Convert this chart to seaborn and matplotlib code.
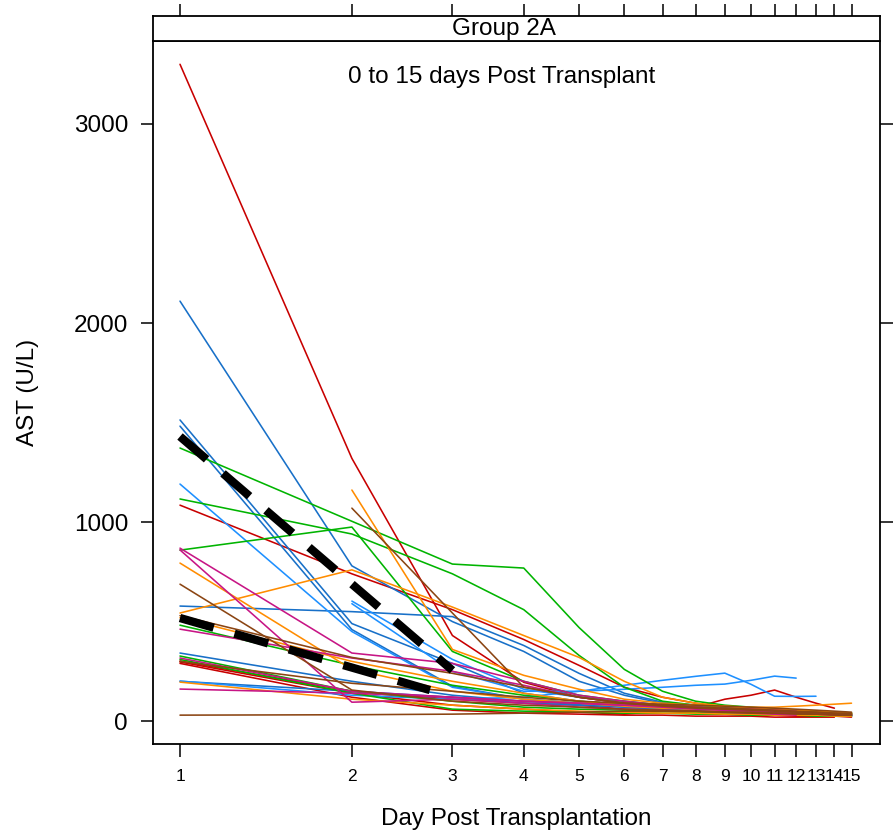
import numpy as np
import pandas as pd
import matplotlib
matplotlib.use('Agg')
import matplotlib.pyplot as plt
import seaborn as sns

# days post transplant (log scale)
days = list(range(1, 16))
day_ticks = list(range(1, 16))
N = None

# AST (U/L) per patient, grouped by line colour
red_patients = [
    [3300, 1320, 430, 195, 120, 90, 70, 60, 55, 50, 45, 45, 40, 40, 35],
    [1085, 740, 560, 410, 280, 170, 120, 90, 70, 60, 55, 50, 45, 40, 40],
    [302, 150, 110, 90, 80, 60, 55, 70, 110, 130, 156, 120, 90, 65, N],
    [297, 140, 80, 60, 45, 35, 50, 40, 35, 30, 30, 25, 25, 25, 20],
    [290, 120, 55, 40, 35, 30, 30, 25, 25, 25, 20, 20, 20, 20, N],
]
blue_patients = [
    [2110, 780, 500, 350, 200, 130, 90, 70, 60, 55, 50, 45, 40, 35, 30],
    [1513, 490, 290, 140, 100, 80, 70, 60, 55, 50, 45, 40, 40, 35, 30],
    [1482, 460, 175, 110, 90, 70, 60, 50, 45, 40, 35, 35, 30, 30, 25],
    [578, 550, 525, 380, 240, 140, 95, 80, 70, 60, 55, 50, 45, 40, 35],
    [342, 200, 130, 100, 85, 75, 65, 55, 50, 45, 40, 40, 35, 35, 30],
    [200, 150, 120, 90, 80, 70, 60, 55, 50, 45, 40, 35, 30, 30, 25],
]
lightblue_patients = [
    [1191, 450, 170, 110, 90, 80, 70, 60, 55, 50, 45, 40, 40, 35, 30],
    [N, 603, 310, 160, 120, 100, 80, 70, 60, 50, 45, 40, 40, 35, 30],
    [201, 130, 110, 120, 150, 180, 205, 225, 241, 185, 125, 124, 125, N, N],
    [N, 590, 250, 150, 150, 160, 170, 180, 186, 205, 226, 216, N, N, N],
]
green_patients = [
    [1372, 1004, 789, 769, 470, 260, 150, 100, 80, 70, 60, 55, 50, 45, 40],
    [1116, 940, 740, 560, 330, 170, 100, 80, 70, 60, 55, 50, 45, 40, 35],
    [859, 975, 350, 200, 130, 100, 80, 70, 60, 55, 50, 45, 45, 40, 35],
    [482, 280, 180, 130, 100, 85, 75, 65, 60, 55, 50, 50, 45, 40, 40],
    [327, 150, 100, 70, 60, 55, 50, 45, 40, 40, 35, 35, 30, 30, 30],
    [310, 140, 60, 50, 45, 40, 40, 35, 35, 30, 30, 30, 25, 25, 25],
]
orange_patients = [
    [794, 260, 150, 110, 90, 75, 65, 60, 55, 50, 45, 45, 40, 40, 35],
    [543, 760, 573, 430, 320, 200, 120, 90, 75, 65, 60, 55, 50, 45, 40],
    [N, 1161, 360, 230, 160, 110, 90, 80, 75, 70, 70, 75, 80, 85, 90],
    [196, 110, 80, 60, 50, 45, 40, 40, 35, 35, 30, 30, 30, 25, 25],
    [520, 300, 200, 140, 100, 80, 70, 60, 55, 50, 45, 45, 40, 40, 35],
]
magenta_patients = [
    [869, 342, 290, 200, 130, 100, 80, 70, 60, 55, 50, 45, 40, 35, 30],
    [860, 95, 110, 90, 70, 60, 55, 50, 45, 40, 35, 30, N, N, N],
    [462, 317, 250, 180, 120, 90, 75, 65, 55, 50, 45, 40, 40, 35, 30],
    [317, 150, 120, 100, 90, 80, 75, 70, 65, 60, 55, 50, N, N, N],
    [161, 140, 120, 100, 90, 80, 70, 60, 55, 50, 45, 40, 35, 30, 30],
]
brown_patients = [
    [688, 156, 100, 80, 70, 60, 55, 50, 45, 40, 40, 35, 35, 30, 30],
    [530, 320, 240, 170, 120, 90, 75, 65, 60, 55, 50, 45, 45, 40, 40],
    [N, 1070, 543, 171, 120, 90, 80, 70, 65, 60, 55, 50, 45, 40, 35],
    [300, 190, 150, 120, 100, 90, 85, 80, 75, 70, 65, 60, 55, 50, 45],
    [30, 32, 35, 40, 45, 50, 50, 50, 45, 45, 40, 40, 35, 35, 30],
]

# group trend lines (dashed)
fit_high_days = [1, 3]
fit_high_ast = [1430, 255]
fit_low_days = [1, 2.74]
fit_low_ast = [518, 156]

groups = [
    ('#C80000', red_patients),
    ('#1870C8', blue_patients),
    ('#1E90FF', lightblue_patients),
    ('#00B400', green_patients),
    ('#FF8C00', orange_patients),
    ('#C71585', magenta_patients),
    ('#8B4513', brown_patients),
]

rows = []
palette = {}
k = 0
for col, pats in groups:
    for p in pats:
        pid = 'p%02d' % k
        palette[pid] = col
        for d, v in zip(days, p):
            if v is not None:
                rows.append({'id': pid, 'day': d, 'ast': v})
        k += 1
df = pd.DataFrame(rows)

sns.set_style('white')
plt.rcParams['font.family'] = ['Liberation Sans', 'DejaVu Sans']
plt.rcParams['text.color'] = 'black'
plt.rcParams['xtick.color'] = 'black'
plt.rcParams['ytick.color'] = 'black'
plt.rcParams['axes.labelcolor'] = 'black'
fs = 17.5

fig = plt.figure(figsize=(8.93, 8.4), dpi=100)
ax = fig.add_axes([153/893, 1-744/840, 727/893, 703/840])
strip = fig.add_axes([153/893, 1-41/840, 727/893, 25/840])

sns.lineplot(data=df, x='day', y='ast', hue='id', palette=palette, units='id',
             estimator=None, legend=False, lw=1.15, ax=ax)
sns.lineplot(x=fit_high_days, y=fit_high_ast, color='black', lw=6,
             linestyle=(0, (4.2, 2.6)), dash_capstyle='butt', ax=ax)
sns.lineplot(x=fit_low_days, y=fit_low_ast, color='black', lw=6,
             linestyle=(0, (4.2, 2.6)), dash_capstyle='butt', ax=ax)

xlim = (10**-0.0473, 10**1.226)
ax.set_xscale('log')
ax.set_xlim(xlim)
ax.set_ylim(-115, 3417)
ax.set_xticks(day_ticks)
ax.set_xticklabels([str(d) for d in day_ticks])
ax.xaxis.set_minor_locator(matplotlib.ticker.NullLocator())
ax.set_yticks([0, 1000, 2000, 3000])
ax.set_xlabel('')
ax.set_ylabel('')
ax.tick_params(axis='both', direction='out', length=9, width=1.1,
               left=True, bottom=True, right=True, top=False, labelright=False)
ax.tick_params(axis='y', pad=9, labelsize=fs)
ax.tick_params(axis='x', pad=9, labelsize=12.5)
for s in ax.spines.values():
    s.set_visible(True)
    s.set_linewidth(1.3)
    s.set_color('black')

ax.text(0.479, 0.949, '0 to 15 days Post Transplant', transform=ax.transAxes,
        ha='center', va='center', fontsize=fs)

# strip on top
strip.set_xscale('log')
strip.set_xlim(xlim)
strip.set_ylim(0, 1)
strip.set_xticks(day_ticks)
strip.xaxis.set_minor_locator(matplotlib.ticker.NullLocator())
strip.set_yticks([])
strip.tick_params(axis='x', direction='out', length=9, width=1.1, top=True,
                  bottom=False, labeltop=False, labelbottom=False)
for s in strip.spines.values():
    s.set_visible(True)
    s.set_linewidth(1.3)
    s.set_color('black')
strip.text(0.483, 0.5, 'Group 2A', transform=strip.transAxes, ha='center',
           va='center', fontsize=fs)

fig.text(28/893, 1-392/840, 'AST (U/L)', rotation=90, ha='center', va='center', fontsize=fs)
fig.text(516/893, 1-819/840, 'Day Post Transplantation', ha='center', va='center', fontsize=fs)

fig.savefig('out.png', dpi=100)
